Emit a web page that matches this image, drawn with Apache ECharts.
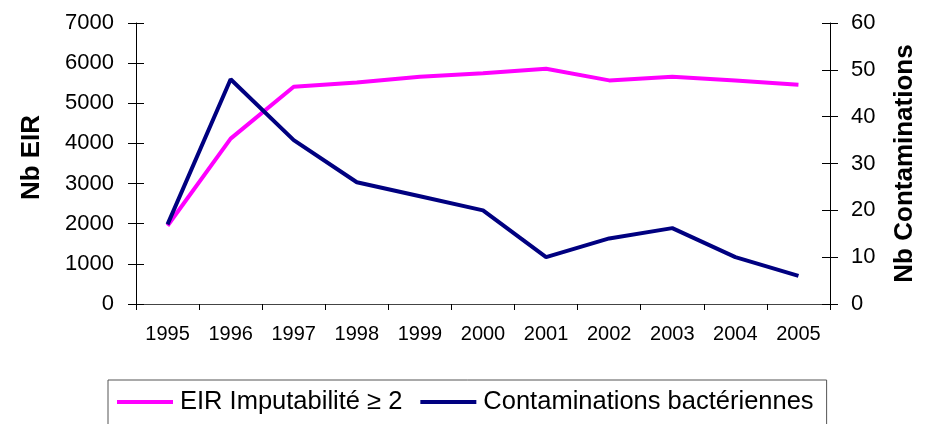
<!DOCTYPE html>
<html>
<head>
<meta charset="utf-8">
<script src="https://cdn.jsdelivr.net/npm/echarts@6/dist/echarts.min.js"></script>
<style>html,body{margin:0;padding:0;background:#fff;}#c{width:930px;height:424px;}</style>
</head>
<body>
<div id="c"></div>
<script>
var years = ['1995','1996','1997','1998','1999','2000','2001','2002','2003','2004','2005'];
var eirValues = [1950, 4120, 5410, 5520, 5660, 5750, 5860, 5570, 5660, 5570, 5460];
var contaminationValues = [17, 48, 35, 26, 23, 20, 10, 14, 16.2, 10, 6];
var leftTicks = {min: 0, max: 7000, interval: 1000};
var rightTicks = {min: 0, max: 60, interval: 10};
var seriesNames = ['EIR Imputabilité ≥ 2', 'Contaminations bactériennes'];
var axisNames = ['Nb EIR', 'Nb Contaminations'];

var FONT = "'Liberation Sans', Arial, sans-serif";
var chart = echarts.init(document.getElementById('c'), null, {renderer: 'canvas'});
var axisLineStyle = {color: '#000', width: 1};
var plain = function (v) { return String(v); };
chart.setOption({
  animation: false,
  backgroundColor: '#fff',
  textStyle: {fontFamily: FONT, color: '#000'},
  grid: {left: 136, right: 100, top: 23, bottom: 120, containLabel: false},
  legend: {
    left: 108, top: 380,
    padding: [9, 13, 30, 9],
    itemGap: 18,
    itemWidth: 56, itemHeight: 4,
    icon: 'rect',
    borderColor: '#555', borderWidth: 1,
    textStyle: {fontFamily: FONT, fontSize: 25.5, color: '#000', lineHeight: 26, padding: [0, 0, 0, 2]},
    data: seriesNames
  },
  xAxis: {
    type: 'category', data: years, boundaryGap: true,
    axisLine: {lineStyle: {color: '#444', width: 1}},
    axisTick: {show: true, length: 6, inside: false, lineStyle: {color: '#000'}},
    axisLabel: {fontFamily: FONT, fontSize: 20, color: '#000', margin: 20, interval: 0},
    splitLine: {show: false}
  },
  yAxis: [
    {
      type: 'value', position: 'left', min: leftTicks.min, max: leftTicks.max, interval: leftTicks.interval,
      name: axisNames[0], nameLocation: 'middle', nameGap: 91, nameRotate: 90,
      nameTextStyle: {fontFamily: FONT, fontSize: 26, fontWeight: 'bold', color: '#000', padding: [0, 0, 0, 12]},
      axisLine: {show: true, lineStyle: axisLineStyle},
      axisTick: {show: true, length: 8, lineStyle: {color: '#000'}},
      axisLabel: {fontFamily: FONT, fontSize: 22, color: '#000', margin: 22, formatter: plain},
      splitLine: {show: false}
    },
    {
      type: 'value', position: 'right', min: rightTicks.min, max: rightTicks.max, interval: rightTicks.interval,
      name: axisNames[1], nameLocation: 'middle', nameGap: 62, nameRotate: 90,
      nameTextStyle: {fontFamily: FONT, fontSize: 26, fontWeight: 'bold', color: '#000'},
      axisLine: {show: true, lineStyle: axisLineStyle},
      axisTick: {show: true, length: 8, lineStyle: {color: '#000'}},
      axisLabel: {fontFamily: FONT, fontSize: 22, color: '#000', margin: 21, formatter: plain},
      splitLine: {show: false}
    },
    {
      type: 'value', position: 'left', offset: 0, min: leftTicks.min, max: leftTicks.max, interval: leftTicks.interval,
      axisLine: {show: false}, axisLabel: {show: false}, splitLine: {show: false},
      axisTick: {show: true, inside: true, length: 8, lineStyle: {color: '#000'}}
    },
    {
      type: 'value', position: 'right', offset: 0, min: rightTicks.min, max: rightTicks.max, interval: rightTicks.interval,
      axisLine: {show: false}, axisLabel: {show: false}, splitLine: {show: false},
      axisTick: {show: true, inside: true, length: 8, lineStyle: {color: '#000'}}
    }
  ],
  series: [
    {
      name: seriesNames[0], type: 'line', yAxisIndex: 0, data: eirValues,
      symbol: 'none', lineStyle: {color: '#FF00FF', width: 4}, itemStyle: {color: '#FF00FF'}
    },
    {
      name: seriesNames[1], type: 'line', yAxisIndex: 1, data: contaminationValues,
      symbol: 'none', lineStyle: {color: '#000080', width: 4}, itemStyle: {color: '#000080'}
    }
  ]
});
</script>
</body>
</html>
